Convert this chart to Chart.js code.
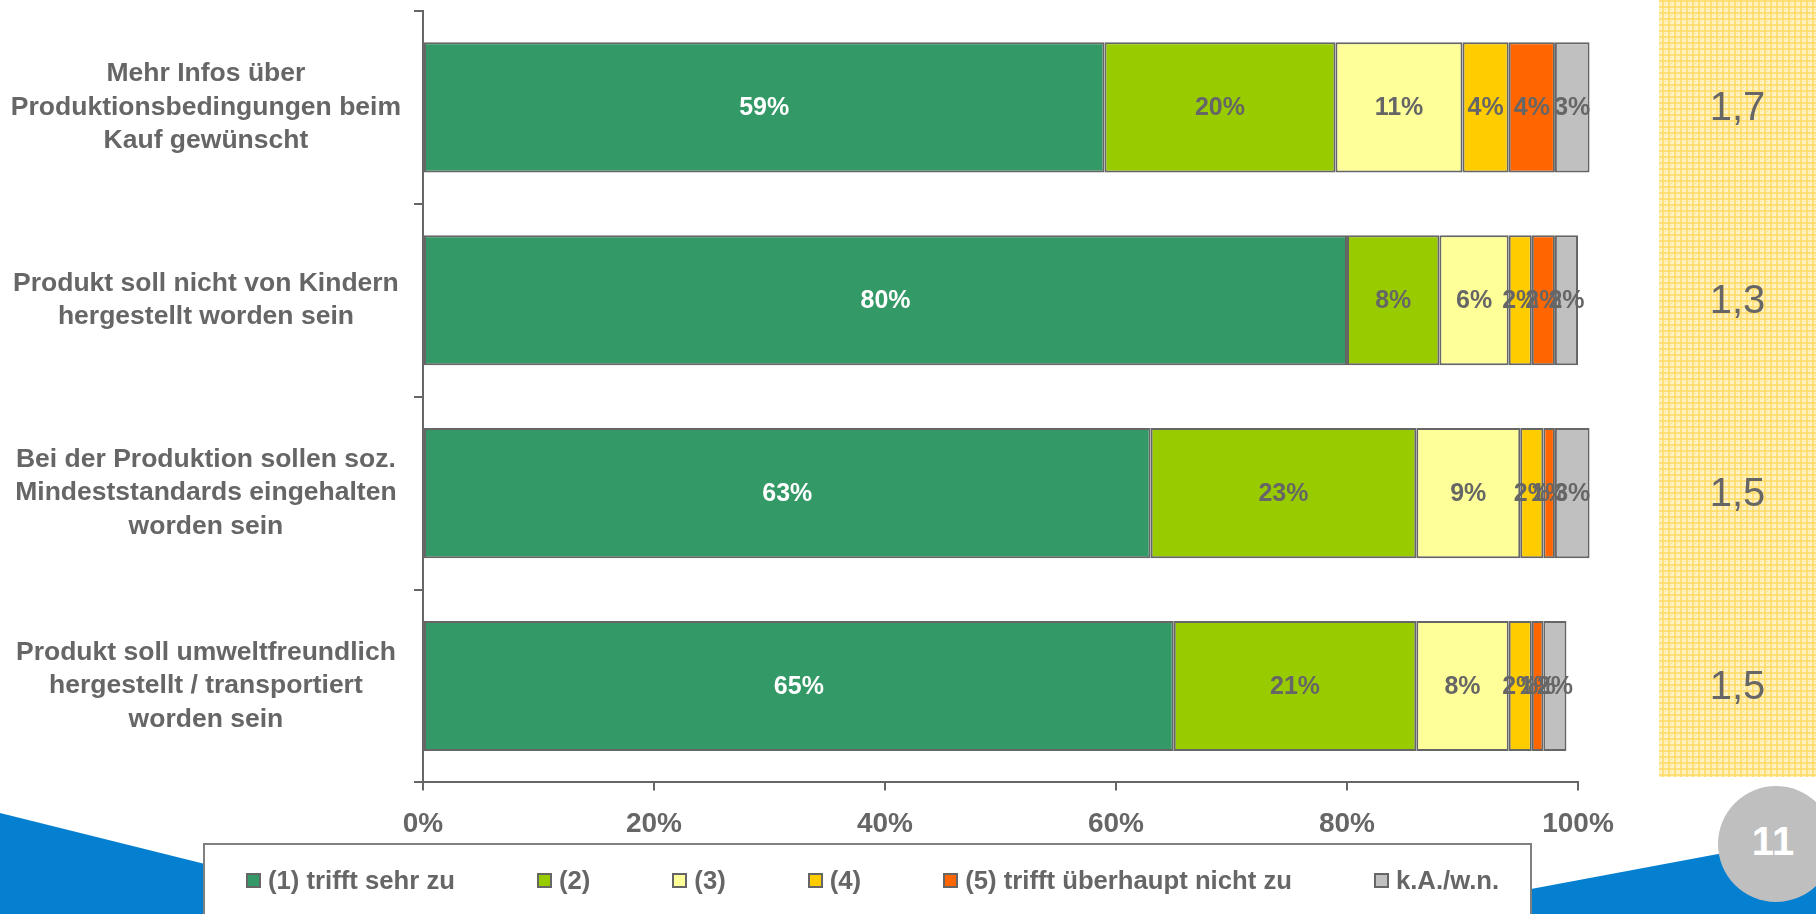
<!DOCTYPE html>
<html><head><meta charset="utf-8">
<script src="https://cdn.jsdelivr.net/npm/chart.js@4/dist/chart.umd.min.js"></script>
<style>
html,body{margin:0;padding:0;background:#fff;}
#wrap{position:relative;width:1816px;height:914px;overflow:hidden;font-family:"Liberation Sans",Arial,sans-serif;}
#bg{position:absolute;left:0;top:0;}
#c{position:absolute;left:0;top:0;}
#legend{position:absolute;left:246px;top:862px;display:flex;gap:82px;align-items:center;height:36px;}
.li{display:flex;align-items:center;font-weight:bold;font-size:25.7px;color:#666;white-space:nowrap;}
.sw{width:11px;height:11px;border:2px solid #666;margin-right:7px;}
</style></head>
<body>
<div id="wrap">
<svg id="bg" width="1816" height="914" xmlns="http://www.w3.org/2000/svg">
  <defs>
    <pattern id="plaid" width="6" height="6" patternUnits="userSpaceOnUse">
      <rect width="6" height="6" fill="#FFF3C4"/>
      <rect x="0" y="0" width="2" height="6" fill="#FFD966" opacity="0.8"/>
      <rect x="0" y="0" width="6" height="2" fill="#FFD966" opacity="0.8"/>
      <rect x="3" y="3" width="1" height="1" fill="#FFE08A"/>
    </pattern>
  </defs>
  <rect x="1659" y="0" width="157" height="777" fill="url(#plaid)"/>
  <polygon points="0,813 205,864 205,914 0,914" fill="#0580D0"/>
  <polygon points="1531,889 1718,854 1816,838 1816,914 1531,914" fill="#0580D0"/>
  <rect x="204" y="844" width="1327" height="90" fill="#fff" stroke="#808080" stroke-width="2"/>
  <circle cx="1776" cy="844" r="58" fill="#BFBFBF"/>
  <text x="1773" y="855" text-anchor="middle" font-family="Liberation Sans, Arial, sans-serif" font-weight="bold" font-size="40" fill="#fff">11</text>
</svg>
<canvas id="c" width="1816" height="914"></canvas>
<div id="legend"></div>
</div>
<script>
// ---- data ----
const categories = [
  ['Mehr Infos über', 'Produktionsbedingungen beim', 'Kauf gewünscht'],
  ['Produkt soll nicht von Kindern', 'hergestellt worden sein'],
  ['Bei der Produktion sollen soz.', 'Mindeststandards eingehalten', 'worden sein'],
  ['Produkt soll umweltfreundlich', 'hergestellt / transportiert', 'worden sein']
];
const seriesNames = ['(1) trifft sehr zu', '(2)', '(3)', '(4)', '(5) trifft überhaupt nicht zu', 'k.A./w.n.'];
const s1 = [59, 80, 63, 65];
const s2 = [20, 8, 23, 21];
const s3 = [11, 6, 9, 8];
const s4 = [4, 2, 2, 2];
const s5 = [4, 2, 1, 1];
const s6 = [3, 2, 3, 2];
const meanValues = [1.7, 1.3, 1.5, 1.5];
const xTicks = [0, 20, 40, 60, 80, 100];
const colors = ['#339966', '#99CC00', '#FFFF99', '#FFCC00', '#FF6600', '#C0C0C0'];

const FONT = '"Liberation Sans", Arial, sans-serif';
Chart.defaults.font.family = FONT;
Chart.defaults.color = '#666';

const series = [s1, s2, s3, s4, s5, s6];
const datasets = series.map((d, i) => ({
  label: seriesNames[i],
  data: d,
  backgroundColor: colors[i],
  borderColor: '#666666',
  borderWidth: 2,
  borderSkipped: false,
  barPercentage: 0.675,
  categoryPercentage: 1,
  clip: false
}));

const labelPlugin = {
  id: 'segLabels',
  afterDatasetsDraw(chart) {
    const ctx = chart.ctx;
    ctx.save();
    ctx.font = 'bold 25px ' + FONT;
    ctx.textAlign = 'center';
    ctx.textBaseline = 'middle';
    chart.data.datasets.forEach((ds, di) => {
      const meta = chart.getDatasetMeta(di);
      meta.data.forEach((bar, i) => {
        const p = bar.getProps(['x', 'y', 'base'], true);
        ctx.fillStyle = di === 0 ? '#ffffff' : '#666666';
        ctx.fillText(ds.data[i] + '%', (p.x + p.base) / 2, p.y + 1);
      });
    });
    const yS = chart.scales.y;
    ctx.font = '40px ' + FONT;
    ctx.fillStyle = '#666666';
    const panelCenter = 1737.5;
    meanValues.forEach((v, i) => {
      ctx.fillText(v.toFixed(1).replace('.', ','), panelCenter, yS.getPixelForValue(i) + 2);
    });
    ctx.restore();
  }
};

new Chart(document.getElementById('c'), {
  type: 'bar',
  data: { labels: categories, datasets },
  plugins: [labelPlugin],
  options: {
    indexAxis: 'y',
    responsive: false,
    animation: false,
    layout: { padding: { left: 0, right: 238, top: 11, bottom: 56 } },
    plugins: { legend: { display: false }, tooltip: { enabled: false } },
    scales: {
      x: {
        stacked: true,
        min: 0, max: 100,
        afterBuildTicks: s => { s.ticks = xTicks.map(v => ({ value: v })); },
        afterFit: s => { s.paddingLeft = 0; s.paddingRight = 0; },
        ticks: { callback: v => v + '%', font: { size: 28, weight: 'bold' }, color: '#666', padding: 17, maxRotation: 0 },
        grid: { drawOnChartArea: false, drawTicks: true, tickLength: 8, color: '#666', lineWidth: 2 },
        border: { display: true, color: '#666', width: 2 }
      },
      y: {
        stacked: true,
        afterFit: s => { s.width = 423; s.paddingTop = 0; s.paddingBottom = 0; },
        ticks: { font: { size: 26.5, weight: 'bold', lineHeight: 1.27 }, color: '#666', crossAlign: 'center', padding: 13 },
        grid: { drawOnChartArea: false, drawTicks: true, tickLength: 9, color: '#666', lineWidth: 2, offset: true },
        border: { display: true, color: '#666', width: 2 }
      }
    }
  }
});

// HTML legend built from the series
const lg = document.getElementById('legend');
seriesNames.forEach((n, i) => {
  const it = document.createElement('div');
  it.className = 'li';
  const sw = document.createElement('span');
  sw.className = 'sw';
  sw.style.background = colors[i];
  const t = document.createElement('span');
  t.textContent = n;
  it.appendChild(sw); it.appendChild(t);
  lg.appendChild(it);
});
</script>
</body></html>
